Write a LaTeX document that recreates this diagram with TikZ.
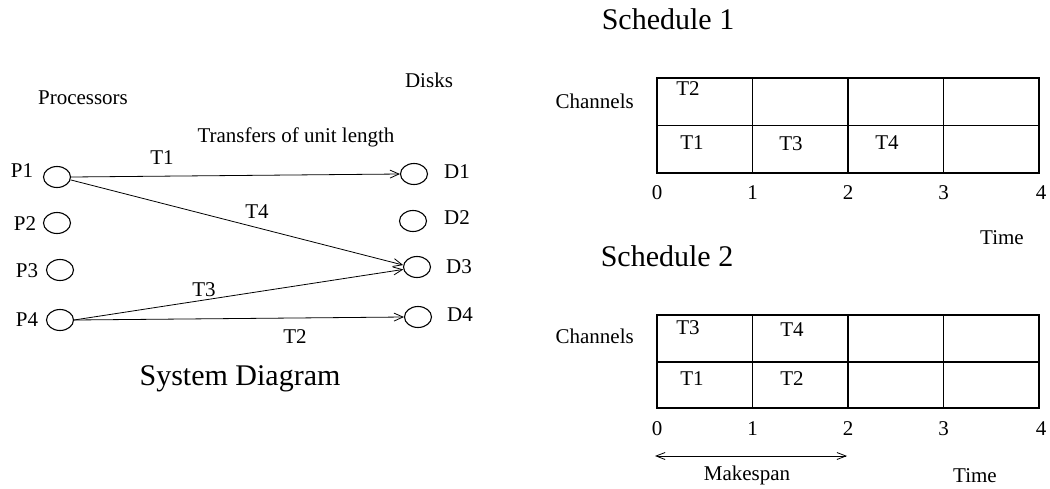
\documentclass[tikz,border=0pt]{standalone}
\usepackage{fontspec}
\setmainfont{Liberation Serif}
\usetikzlibrary{shapes.geometric,arrows.meta}
\begin{document}
\begin{tikzpicture}[x=1pt,y=-1pt,
  lab/.style={font=\fontsize{21}{24}\selectfont, inner sep=0pt},
  big/.style={font=\fontsize{30}{34}\selectfont, inner sep=0pt},
  unit/.style={draw, ellipse, line width=1.1pt, minimum width=27pt, minimum height=21pt, inner sep=0pt},
  xfer/.style={line width=0.8pt, -{Straight Barb[length=9pt,width=8pt]}},
  grid/.style={line width=1.2pt},
  span/.style={line width=0.8pt, {Straight Barb[length=9pt,width=7pt]}-{Straight Barb[length=9pt,width=7pt]}}]
\useasboundingbox (0,0) rectangle (1050,488);
% ---------- System diagram ----------
\node[lab] (proc) at (83,98) {Processors};
\node[lab] (disks) at (429,80) {Disks};
\node[lab] (xlab) at (296,137) {Transfers of unit length};
\node[unit] (P1) at (57,177) {};
\node[unit] (P2) at (57,223) {};
\node[unit] (P3) at (60,270) {};
\node[unit] (P4) at (60,320) {};
\node[unit] (D1) at (414,174) {};
\node[unit] (D2) at (413,221) {};
\node[unit] (D3) at (417,267) {};
\node[unit] (D4) at (418,317) {};
\node[lab] (lP1) at (22,171) {P1};
\node[lab] (lP2) at (25,224) {P2};
\node[lab] (lP3) at (27,271) {P3};
\node[lab] (lP4) at (27,320) {P4};
\node[lab] (lD1) at (457,172) {D1};
\node[lab] (lD2) at (457,218) {D2};
\node[lab] (lD3) at (459,267) {D3};
\node[lab] (lD4) at (460,315) {D4};
\draw[xfer] (P1.east) -- (D1.west);
\draw[xfer] (P1.-12) -- (D3.172);
\draw[xfer] (P4.east) -- (D3.190);
\draw[xfer] (P4.east) -- (D4.west);
\node[lab] (t1) at (162,158) {T1};
\node[lab] (t4) at (257,212) {T4};
\node[lab] (t3) at (204,290) {T3};
\node[lab] (t2) at (295,337) {T2};
\node[big] (sysd) at (240,379) {System Diagram};
% ---------- Schedule 1 ----------
\node[big] (s1) at (668,19) {Schedule 1};
\node[lab, anchor=east] (ch1) at (634,101) {Channels};
\coordinate (a0) at (657,78);
\coordinate (a4) at (1039,173);
\draw[grid] (a0) rectangle (a4);
\draw[grid] (657,125.5) -- (1039,125.5);
\foreach \x in {752.5,848,943.5} \draw[grid] (\x,78) -- (\x,173);
\node[lab] (s1t2) at (688,89) {T2};
\node[lab] (s1t1) at (692,143) {T1};
\node[lab] (s1t3) at (791,144) {T3};
\node[lab] (s1t4) at (887,143) {T4};
\foreach \x/\n in {657/0,752.5/1,848/2,943.5/3,1041/4}
  \node[lab] (s1n\n) at (\x,193) {\n};
\node[lab] (time1) at (1002,238) {Time};
% ---------- Schedule 2 ----------
\node[big] (s2) at (667,256) {Schedule 2};
\node[lab, anchor=east] (ch2) at (634,336) {Channels};
\draw[grid] (657,315) rectangle (1039,408);
\draw[grid] (657,362) -- (1039,362);
\foreach \x in {752.5,848,943.5} \draw[grid] (\x,315) -- (\x,408);
\node[lab] (s2t3) at (688,328) {T3};
\node[lab] (s2t4) at (792,330) {T4};
\node[lab] (s2t1) at (692,379) {T1};
\node[lab] (s2t2) at (792,379) {T2};
\foreach \x/\n in {657/0,752.5/1,848/2,943.5/3,1041/4}
  \node[lab] (s2n\n) at (\x,429) {\n};
\coordinate (m0) at (655,456);
\coordinate (m2) at (847,456);
\draw[span] (m0) -- (m2);
\node[lab] (mk) at (747,475) {Makespan};
\node[lab] (time2) at (975,476) {Time};
\end{tikzpicture}
\end{document}
